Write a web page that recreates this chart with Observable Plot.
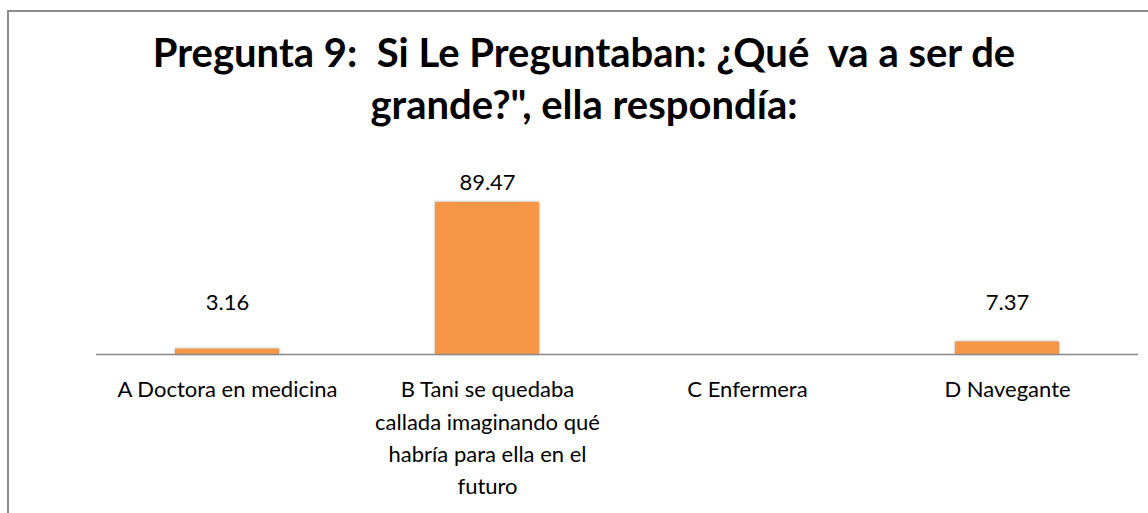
<!DOCTYPE html>
<html>
<head>
<meta charset="utf-8">
<script src="https://cdn.jsdelivr.net/npm/d3@7"></script>
<script src="https://cdn.jsdelivr.net/npm/@observablehq/plot@0.6"></script>
<style>
  html, body { margin: 0; padding: 0; background: #fff; overflow: hidden; }
  #page { position: relative; width: 1148px; height: 513px; overflow: hidden; }
  #frame { position: absolute; left: 7px; top: 10px; width: 1200px; height: 600px;
           border: 2px solid #8c8c8c; box-sizing: border-box; }
  #title { position: absolute; left: 0; top: 26px; width: 1168px; text-align: center;
           font-family: Lato, "Open Sans", sans-serif; font-weight: 700; font-size: 40px;
           line-height: 52px; color: #000; white-space: pre; }
  #chart { position: absolute; left: 0; top: 0; }
  .shadowbar rect { filter: drop-shadow(0px 0px 1.5px rgba(0,0,0,0.35)); }
</style>
</head>
<body>
<div id="page">
  <div id="frame"></div>
  <div id="chart"></div>
  <div id="title">Pregunta 9:  Si Le Preguntaban: ¿Qué  va a ser de
grande?", ella respondía:</div>
</div>
<script>
const categories = [
  "A Doctora en medicina",
  "B Tani se quedaba callada imaginando qué habría para ella en el futuro",
  "C Enfermera",
  "D Navegante"
];
const values = [3.16, 89.47, 0, 7.37];
const valueLabels = ["3.16", "89.47", "", "7.37"];
const tickLabels = [
  "A Doctora en medicina",
  "B Tani se quedaba\ncallada imaginando qué\nhabría para ella en el\nfuturo",
  "C Enfermera",
  "D Navegante"
];

const data = categories.map((c, i) => ({category: c, value: values[i], label: valueLabels[i]}));
const tickMap = new Map(categories.map((c, i) => [c, tickLabels[i]]));

const chart = Plot.plot({
  width: 1148,
  height: 513,
  marginLeft: 96,
  marginRight: 10,
  marginTop: 184,
  marginBottom: 159,
  style: {fontFamily: "Lato, 'Open Sans', sans-serif", fontSize: "22px", color: "#000", background: "transparent"},
  x: {domain: categories, paddingInner: 0.6, paddingOuter: 0.3, label: null},
  y: {domain: [0, 100], axis: null},
  marks: [
    Plot.barY(data.filter(d => d.value > 0), {x: "category", y: "value", fill: "#F79646", className: "shadowbar"}),
    Plot.ruleY([0], {stroke: "#898989", strokeWidth: 1.5}),
    Plot.text(data.filter(d => d.label !== ""), {
      x: "category",
      y: d => Math.max(d.value, 19.4),
      text: "label",
      dy: -19,
      lineAnchor: "middle",
      fontSize: 22,
      fill: "#000"
    }),
    Plot.axisX({
      tickSize: 0,
      tickPadding: 20,
      tickFormat: d => tickMap.get(d),
      lineHeight: 1.47,
      fontSize: 22,
      fill: "#000",
      label: null
    })
  ]
});
document.getElementById("chart").appendChild(chart);
</script>
</body>
</html>
